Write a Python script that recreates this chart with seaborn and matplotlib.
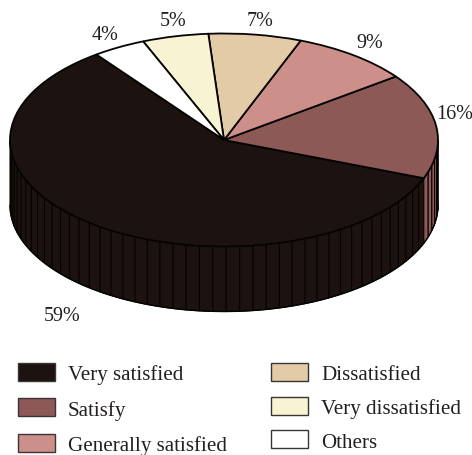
import numpy as np
import matplotlib
matplotlib.use("Agg")
import matplotlib.pyplot as plt
from matplotlib.patches import Polygon, Patch
import seaborn as sns

categories = ["Very satisfied", "Satisfy", "Generally satisfied",
              "Dissatisfied", "Very dissatisfied", "Others"]
shares = [59, 16, 9, 7, 5, 4]
colors = ["#1c1311", "#8d5957", "#cd8f8a", "#e2cba6", "#f7f3d3", "#ffffff"]
labels = ["59%", "16%", "9%", "7%", "5%", "4%"]
label_pos = [(-0.84, -1.65), (0.99, 0.25), (0.617, 0.915),
             (0.107, 1.125), (-0.30, 1.125), (-0.62, 0.995)]

START = 126.6
DEPTH = 65 / 106.5      # wall height, in units of the vertical radius
LINE = "#060303"

sns.set_theme(style="white", rc={"font.family": ["Liberation Serif", "DejaVu Serif"]})

fig = plt.figure(figsize=(4.72, 4.56), dpi=100, facecolor="white")
ax = fig.add_axes([0, 0, 1, 1])

ax.pie(shares, colors=colors, startangle=START, radius=1, center=(0, 0),
       counterclock=True, frame=False,
       wedgeprops=dict(edgecolor=LINE, linewidth=1.3, zorder=3))

# Wall of the disc: one facet per percentage point, front half only
edge = START
for share, col in zip(shares, colors):
    for k in range(share):
        a0 = edge + k * 3.6
        t = np.radians(np.linspace(a0, a0 + 3.6, 6))
        t = t[np.sin(t) <= 1e-9]
        if t.size < 2:
            continue
        top = np.column_stack([np.cos(t), np.sin(t)])
        bot = top[::-1] - [0, DEPTH]
        ax.add_patch(Polygon(np.vstack([top, bot]), closed=True, facecolor=col,
                             edgecolor=LINE, linewidth=0.8, zorder=2))
    edge += share * 3.6

# Bottom rim of the disc
t = np.radians(np.linspace(180, 360, 200))
ax.plot(np.cos(t), np.sin(t) - DEPTH, color=LINE, lw=1.0, zorder=4)

for txt, (x, y) in zip(labels, label_pos):
    ax.text(x, y, txt, ha="left", va="center", fontsize=14.5, color="#231f20")

ax.set_aspect("auto")
ax.set_xlim(-224 / 214, 248 / 214)
ax.set_ylim((141 - 456) / 106.5, 141 / 106.5)
ax.set_axis_off()

handles = [Patch(facecolor=c, edgecolor="#3a3534", linewidth=1.0) for c in colors]
common = dict(frameon=False, fontsize=15.1, handlelength=1.76, handleheight=0.95,
              handletextpad=0.62, borderpad=0, borderaxespad=0, labelcolor="#231f20")
left = ax.legend(handles[:3], categories[:3], loc="upper left",
                 bbox_to_anchor=(18 / 472, 1 - 364 / 456), labelspacing=0.67, **common)
ax.add_artist(left)
ax.legend(handles[3:], categories[3:], loc="upper left",
          bbox_to_anchor=(271 / 472, 1 - 364 / 456), labelspacing=0.59, **common)

fig.savefig("out.png", dpi=100, facecolor="white")
